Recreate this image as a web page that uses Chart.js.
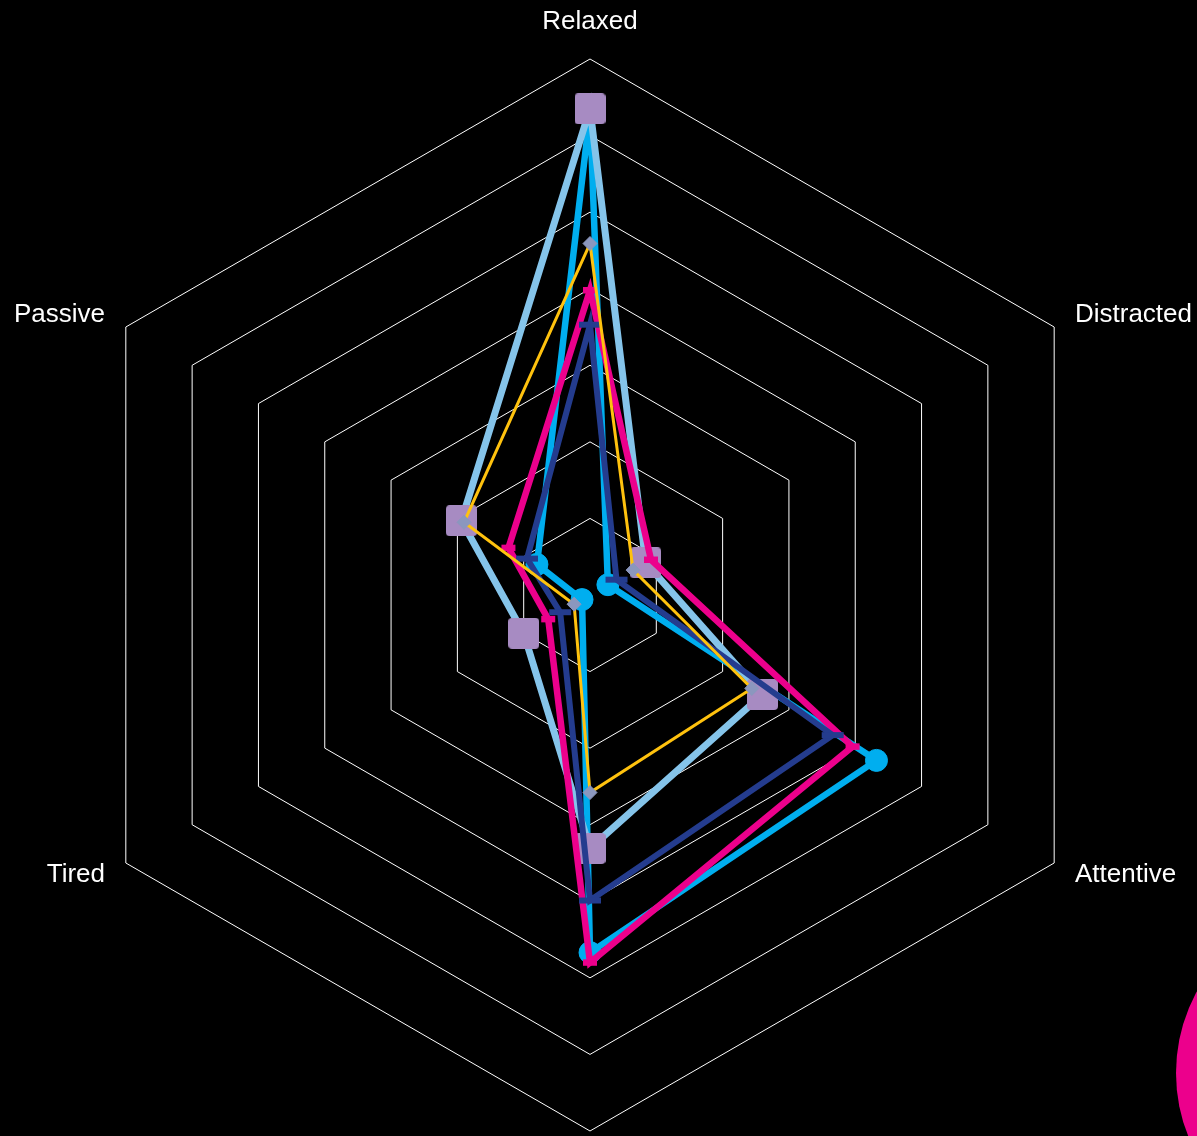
<!DOCTYPE html>
<html>
<head>
<meta charset="utf-8">
<script src="https://cdn.jsdelivr.net/npm/chart.js@4/dist/chart.umd.min.js"></script>
<style>
  html, body { margin: 0; padding: 0; background: #000; overflow: hidden; width: 1197px; height: 1136px; }
  #myChart { position: absolute; left: 4px; top: -7px; }
  .blob { position: absolute; left: 1176px; top: 903px; width: 340px; height: 340px; border-radius: 50%; background: #EC008C; }
</style>
</head>
<body>
<canvas id="myChart" width="1204" height="1204"></canvas>
<div class="blob"></div>
<script>
// axes of the radar, clockwise from the top
let labels = ['Relaxed', 'Distracted', 'Attentive', 'Engaged', 'Tired', 'Passive'];

// values (% of respondents)
let lightBlue = [63.5, 8.4, 26.0, 33.1, 10.0, 19.4];
let cyan      = [63.0, 2.7, 43.2, 46.7, 1.2, 8.0];
let yellow    = [45.9, 6.5, 24.4, 25.8, 2.4, 19.0];
let pink      = [39.8, 9.2, 39.6, 48.0, 6.3, 12.3];
let navy      = [35.3, 4.0, 36.6, 39.9, 4.5, 9.5];

let scaleMax = 70;
let scaleStep = 10;

Chart.defaults.font.family = '"Liberation Sans", Arial, sans-serif';

// rounded purple square used as marker of the light blue series
let squareMark = document.createElement('canvas');
squareMark.width = 31;
squareMark.height = 31;
let sq = squareMark.getContext('2d');
sq.fillStyle = '#A78BC2';
sq.beginPath();
sq.roundRect(0, 0, 31, 31, 4);
sq.fill();

let mychart = document.getElementById('myChart').getContext('2d');
let chart = new Chart(mychart, {
    type: 'radar',
    data: {
        labels: labels,
        datasets: [{
            label: 'yellow',
            data: yellow,
            borderColor: '#FFC20E',
            borderWidth: 3,
            pointStyle: 'rectRot',
            pointRadius: 7,
            pointBackgroundColor: '#8B97BE',
            pointBorderColor: '#8B97BE',
            pointBorderWidth: 1,
            fill: false
        }, {
            label: 'navy',
            data: navy,
            borderColor: '#243C8E',
            borderWidth: 6,
            pointStyle: 'line',
            pointRadius: 11,
            pointBorderColor: '#243C8E',
            pointBorderWidth: 6,
            fill: false
        }, {
            label: 'pink',
            data: pink,
            borderColor: '#EC008C',
            borderWidth: 6.5,
            pointStyle: 'line',
            pointRadius: 7,
            pointBorderColor: '#EC008C',
            pointBorderWidth: 6.5,
            fill: false
        }, {
            label: 'light blue',
            data: lightBlue,
            borderColor: '#85C4EA',
            borderWidth: 7,
            pointStyle: squareMark,
            pointRadius: 15,
            fill: false
        }, {
            label: 'cyan',
            data: cyan,
            borderColor: '#00AEEF',
            borderWidth: 6.5,
            pointStyle: 'circle',
            pointRadius: 11,
            pointBackgroundColor: '#00AEEF',
            pointBorderColor: '#00AEEF',
            pointBorderWidth: 1,
            fill: false
        }]
    },
    options: {
        responsive: false,
        animation: false,
        layout: { padding: 0 },
        plugins: {
            legend: { display: false },
            tooltip: { enabled: false }
        },
        elements: { line: { tension: 0 } },
        scales: {
            r: {
                min: 0,
                max: scaleMax,
                ticks: { display: false, stepSize: scaleStep },
                grid: { color: '#ffffff', lineWidth: 1 },
                angleLines: { display: false },
                pointLabels: {
                    color: '#ffffff',
                    font: { size: 26, lineHeight: 0.01 },
                    padding: ctx => (ctx.index === 0 || ctx.index === 3) ? 37 : 24
                }
            }
        }
    }
});
</script>
</body>
</html>
